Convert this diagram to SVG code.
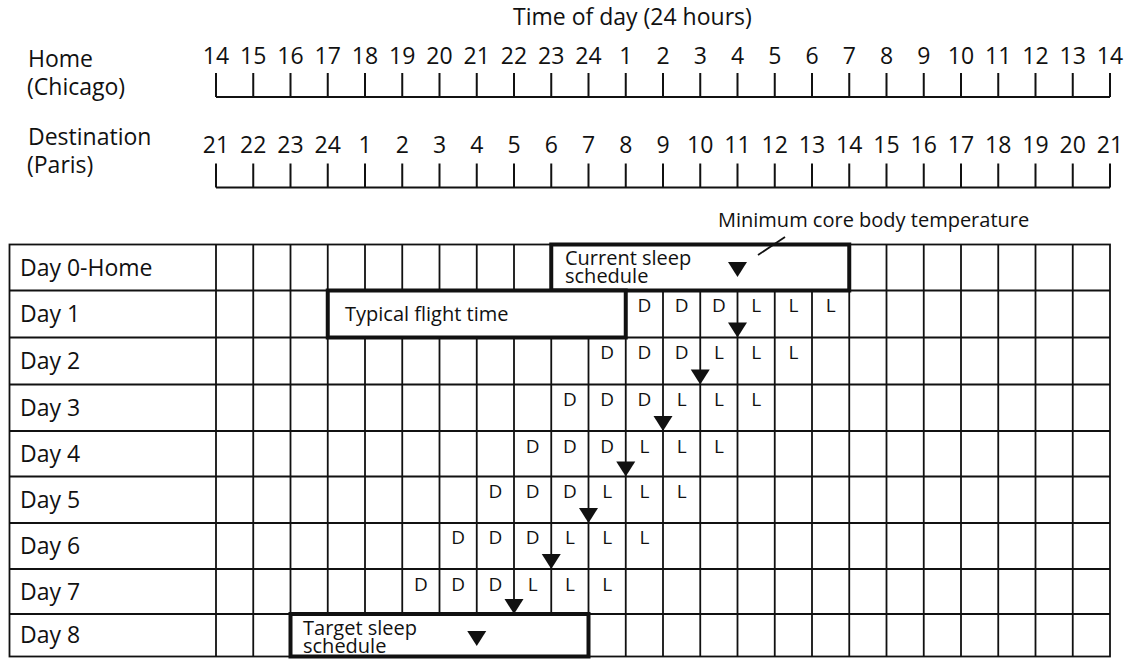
<svg xmlns="http://www.w3.org/2000/svg" width="1137" height="659" viewBox="0 0 1137 659">
<style>
text{font-family:"Open Sans","Noto Sans","Liberation Sans",sans-serif;fill:#111}
.big{font-size:23px}
.num{font-size:23px;text-anchor:middle}
.row{font-size:23px}
.lbl{font-size:20px}
.dl{font-size:19px;text-anchor:middle}
.ax{fill:none;stroke:#111;stroke-width:2}
.grid{fill:none;stroke:#111;stroke-width:1.8}
.box{fill:#fff;stroke:#111;stroke-width:4}
.tri{fill:#111}
</style>
<defs>
<path id="tri" d="M-9.5,-15 L9.5,-15 L0,0 Z"/>
</defs>
<rect width="1137" height="659" fill="#fff"/>

<g id="title"><text class="big" x="513" y="25">Time of day (24 hours)</text></g>

<g id="axis-home">
<text class="big" x="28" y="66.5">Home</text>
<text class="big" x="27" y="95">(Chicago)</text>
<path class="ax" d="M216 97H1110M216 73V97M253.25 73V97M290.5 73V97M327.75 73V97M365 73V97M402.25 73V97M439.5 73V97M476.75 73V97M514 73V97M551.25 73V97M588.5 73V97M625.75 73V97M663 73V97M700.25 73V97M737.5 73V97M774.75 73V97M812 73V97M849.25 73V97M886.5 73V97M923.75 73V97M961 73V97M998.25 73V97M1035.5 73V97M1072.75 73V97M1110 73V97"/>
<g class="nums">
<text class="num" x="216" y="63.5">14</text><text class="num" x="253.25" y="63.5">15</text><text class="num" x="290.5" y="63.5">16</text><text class="num" x="327.75" y="63.5">17</text><text class="num" x="365" y="63.5">18</text><text class="num" x="402.25" y="63.5">19</text><text class="num" x="439.5" y="63.5">20</text><text class="num" x="476.75" y="63.5">21</text><text class="num" x="514" y="63.5">22</text><text class="num" x="551.25" y="63.5">23</text><text class="num" x="588.5" y="63.5">24</text><text class="num" x="625.75" y="63.5">1</text><text class="num" x="663" y="63.5">2</text><text class="num" x="700.25" y="63.5">3</text><text class="num" x="737.5" y="63.5">4</text><text class="num" x="774.75" y="63.5">5</text><text class="num" x="812" y="63.5">6</text><text class="num" x="849.25" y="63.5">7</text><text class="num" x="886.5" y="63.5">8</text><text class="num" x="923.75" y="63.5">9</text><text class="num" x="961" y="63.5">10</text><text class="num" x="998.25" y="63.5">11</text><text class="num" x="1035.5" y="63.5">12</text><text class="num" x="1072.75" y="63.5">13</text><text class="num" x="1110" y="63.5">14</text>
</g>
</g>

<g id="axis-dest">
<text class="big" x="28" y="145">Destination</text>
<text class="big" x="27" y="173">(Paris)</text>
<path class="ax" d="M216 187.5H1110M216 163.5V187.5M253.25 163.5V187.5M290.5 163.5V187.5M327.75 163.5V187.5M365 163.5V187.5M402.25 163.5V187.5M439.5 163.5V187.5M476.75 163.5V187.5M514 163.5V187.5M551.25 163.5V187.5M588.5 163.5V187.5M625.75 163.5V187.5M663 163.5V187.5M700.25 163.5V187.5M737.5 163.5V187.5M774.75 163.5V187.5M812 163.5V187.5M849.25 163.5V187.5M886.5 163.5V187.5M923.75 163.5V187.5M961 163.5V187.5M998.25 163.5V187.5M1035.5 163.5V187.5M1072.75 163.5V187.5M1110 163.5V187.5"/>
<g class="nums">
<text class="num" x="216" y="153">21</text><text class="num" x="253.25" y="153">22</text><text class="num" x="290.5" y="153">23</text><text class="num" x="327.75" y="153">24</text><text class="num" x="365" y="153">1</text><text class="num" x="402.25" y="153">2</text><text class="num" x="439.5" y="153">3</text><text class="num" x="476.75" y="153">4</text><text class="num" x="514" y="153">5</text><text class="num" x="551.25" y="153">6</text><text class="num" x="588.5" y="153">7</text><text class="num" x="625.75" y="153">8</text><text class="num" x="663" y="153">9</text><text class="num" x="700.25" y="153">10</text><text class="num" x="737.5" y="153">11</text><text class="num" x="774.75" y="153">12</text><text class="num" x="812" y="153">13</text><text class="num" x="849.25" y="153">14</text><text class="num" x="886.5" y="153">15</text><text class="num" x="923.75" y="153">16</text><text class="num" x="961" y="153">17</text><text class="num" x="998.25" y="153">18</text><text class="num" x="1035.5" y="153">19</text><text class="num" x="1072.75" y="153">20</text><text class="num" x="1110" y="153">21</text>
</g>
</g>

<g id="grid">
<rect class="grid" x="9.5" y="244.5" width="1100.5" height="412"/>
<path class="grid" d="M9.5 290.5H1110M9.5 337.5H1110M9.5 384.5H1110M9.5 431H1110M9.5 476.5H1110M9.5 523H1110M9.5 569H1110M9.5 614H1110M216 244.5V656.5M253.25 244.5V656.5M290.5 244.5V656.5M327.75 244.5V656.5M365 244.5V656.5M402.25 244.5V656.5M439.5 244.5V656.5M476.75 244.5V656.5M514 244.5V656.5M551.25 244.5V656.5M588.5 244.5V656.5M625.75 244.5V656.5M663 244.5V656.5M700.25 244.5V656.5M737.5 244.5V656.5M774.75 244.5V656.5M812 244.5V656.5M849.25 244.5V656.5M886.5 244.5V656.5M923.75 244.5V656.5M961 244.5V656.5M998.25 244.5V656.5M1035.5 244.5V656.5M1072.75 244.5V656.5"/>
<g id="row-labels">
<text class="row" x="20" y="275.5">Day 0-Home</text>
<text class="row" x="20" y="322">Day 1</text>
<text class="row" x="20" y="369">Day 2</text>
<text class="row" x="20" y="415.75">Day 3</text>
<text class="row" x="20" y="461.75">Day 4</text>
<text class="row" x="20" y="507.75">Day 5</text>
<text class="row" x="20" y="554">Day 6</text>
<text class="row" x="20" y="599.5">Day 7</text>
<text class="row" x="20" y="643.25">Day 8</text>
</g>
</g>

<g id="day1">
<text class="dl" x="644.38" y="312">D</text><text class="dl" x="681.63" y="312">D</text><text class="dl" x="718.88" y="312">D</text><text class="dl" x="756.13" y="312">L</text><text class="dl" x="793.38" y="312">L</text><text class="dl" x="830.63" y="312">L</text>
<use href="#tri" class="tri" x="737.5" y="337.5"/>
</g>
<g id="day2">
<text class="dl" x="607.13" y="359">D</text><text class="dl" x="644.38" y="359">D</text><text class="dl" x="681.63" y="359">D</text><text class="dl" x="718.88" y="359">L</text><text class="dl" x="756.13" y="359">L</text><text class="dl" x="793.38" y="359">L</text>
<use href="#tri" class="tri" x="700.25" y="384.5"/>
</g>
<g id="day3">
<text class="dl" x="569.88" y="406">D</text><text class="dl" x="607.13" y="406">D</text><text class="dl" x="644.38" y="406">D</text><text class="dl" x="681.63" y="406">L</text><text class="dl" x="718.88" y="406">L</text><text class="dl" x="756.13" y="406">L</text>
<use href="#tri" class="tri" x="663" y="431"/>
</g>
<g id="day4">
<text class="dl" x="532.63" y="452.5">D</text><text class="dl" x="569.88" y="452.5">D</text><text class="dl" x="607.13" y="452.5">D</text><text class="dl" x="644.38" y="452.5">L</text><text class="dl" x="681.63" y="452.5">L</text><text class="dl" x="718.88" y="452.5">L</text>
<use href="#tri" class="tri" x="625.75" y="476.5"/>
</g>
<g id="day5">
<text class="dl" x="495.38" y="498">D</text><text class="dl" x="532.63" y="498">D</text><text class="dl" x="569.88" y="498">D</text><text class="dl" x="607.13" y="498">L</text><text class="dl" x="644.38" y="498">L</text><text class="dl" x="681.63" y="498">L</text>
<use href="#tri" class="tri" x="588.5" y="523"/>
</g>
<g id="day6">
<text class="dl" x="458.13" y="544">D</text><text class="dl" x="495.38" y="544">D</text><text class="dl" x="532.63" y="544">D</text><text class="dl" x="569.88" y="544">L</text><text class="dl" x="607.13" y="544">L</text><text class="dl" x="644.38" y="544">L</text>
<use href="#tri" class="tri" x="551.25" y="569"/>
</g>
<g id="day7">
<text class="dl" x="420.88" y="591">D</text><text class="dl" x="458.13" y="591">D</text><text class="dl" x="495.38" y="591">D</text><text class="dl" x="532.63" y="591">L</text><text class="dl" x="569.88" y="591">L</text><text class="dl" x="607.13" y="591">L</text>
<use href="#tri" class="tri" x="514" y="614"/>
</g>

<g id="box-current">
<rect class="box" x="551.25" y="244.5" width="298" height="46"/>
<text class="lbl" x="565" y="265">Current sleep</text>
<text class="lbl" x="565" y="283">schedule</text>
<use href="#tri" class="tri" x="737.5" y="277"/>
</g>
<g id="box-flight">
<rect class="box" x="327.75" y="290.5" width="298" height="47"/>
<text class="lbl" x="345" y="320.5">Typical flight time</text>
</g>
<g id="box-target">
<rect class="box" x="290.5" y="614" width="298" height="42.5"/>
<text class="lbl" x="303" y="635">Target sleep</text>
<text class="lbl" x="303" y="652.5">schedule</text>
<use href="#tri" class="tri" x="476.75" y="646"/>
</g>

<g id="annotation">
<text class="lbl" x="718" y="227">Minimum core body temperature</text>
</g>
<g id="connectors">
<line x1="758" y1="255" x2="785" y2="237" stroke="#111" stroke-width="1.8"/>
</g>
</svg>
